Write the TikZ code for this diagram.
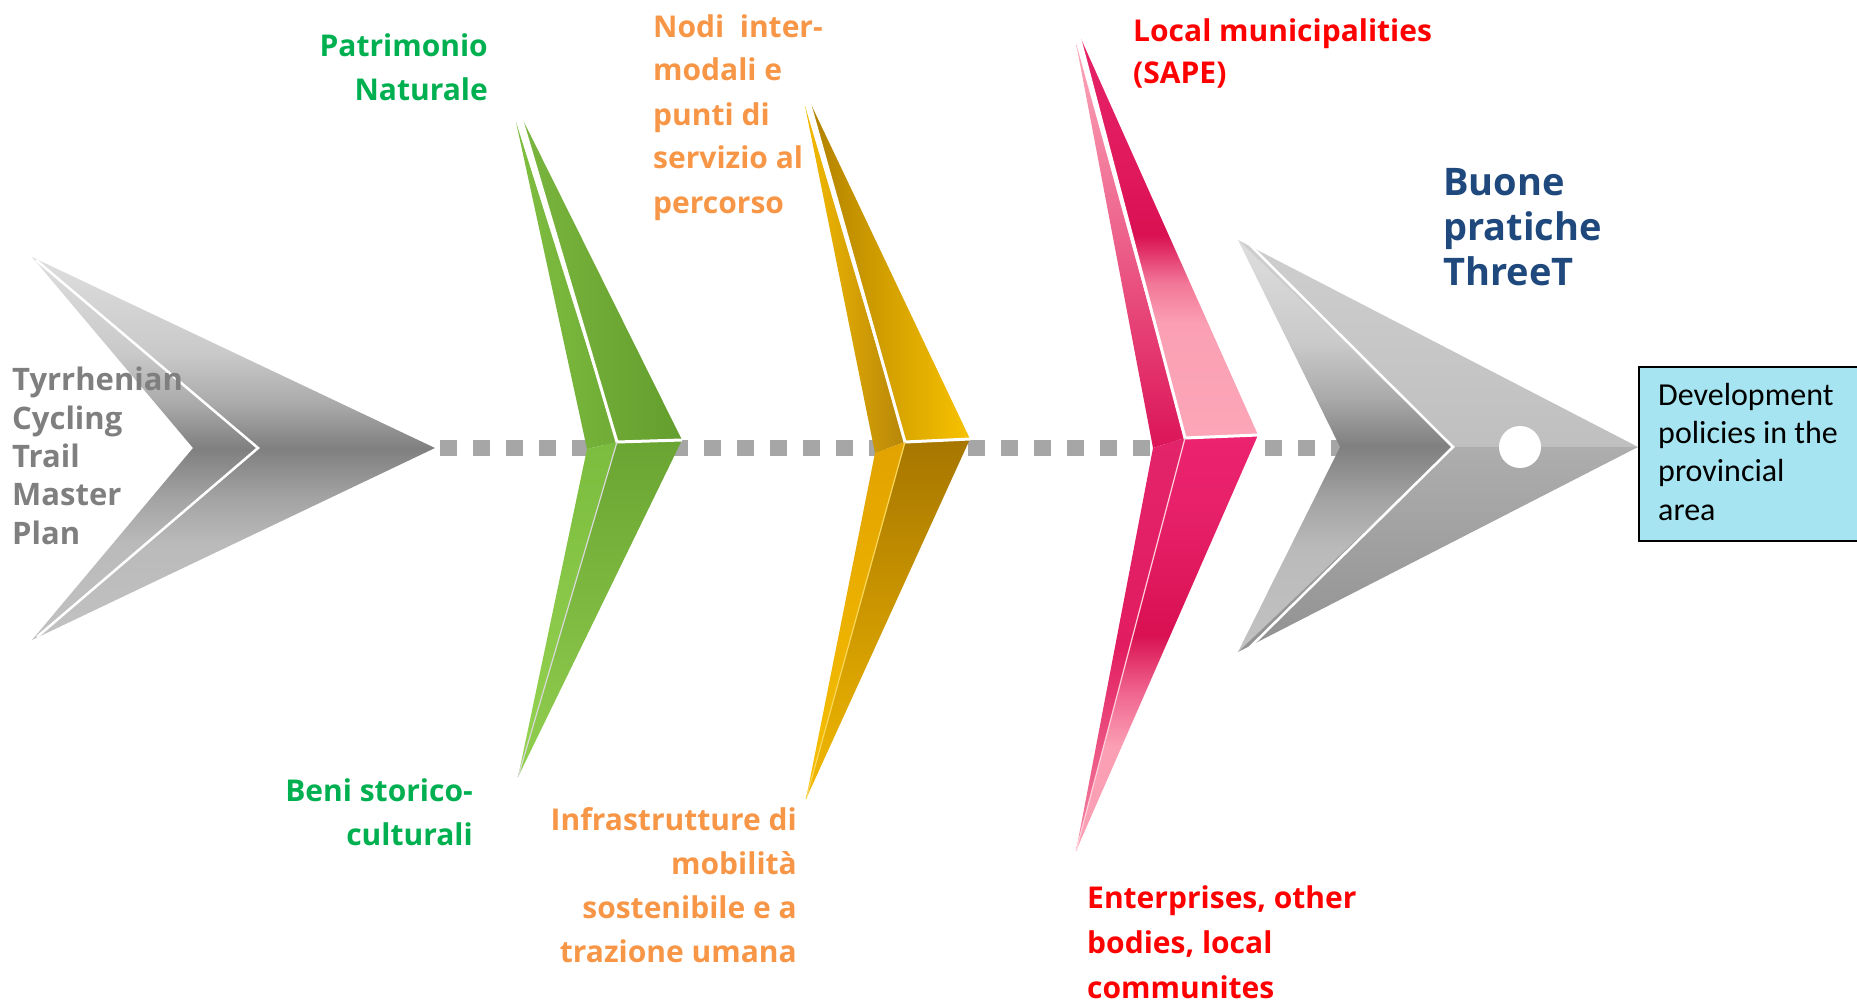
\documentclass[tikz,border=0pt]{standalone}
\usepackage{fontspec}
\setmainfont{Open Sans}
\newfontfamily\boxfont{Carlito}
\definecolor{tgrey}{HTML}{7F7F7F}
\definecolor{tgreen}{HTML}{00B050}
\definecolor{torange}{HTML}{F79646}
\definecolor{tred}{HTML}{FF0000}
\definecolor{tblue}{HTML}{1F497D}
\definecolor{boxfill}{HTML}{A5E4F0}
\definecolor{dotgrey}{HTML}{A6A6A6}
\definecolor{pkA}{HTML}{E62468}
\definecolor{pkB}{HTML}{E0185C}
\definecolor{pkC}{HTML}{D91052}
\definecolor{pkD}{HTML}{F27898}
\definecolor{pkE}{HTML}{FBA0B4}
\definecolor{pkF}{HTML}{FCA6B8}
\definecolor{pkG}{HTML}{EC2370}
\definecolor{pkH}{HTML}{E62068}
\definecolor{pkI}{HTML}{F06690}
\pgfdeclareverticalshading{greychev}{100bp}{color(0bp)=(black!24); color(25bp)=(black!24); color(37.5bp)=(black!27); color(43.5bp)=(black!36); color(50bp)=(black!50); color(56bp)=(black!33); color(62.5bp)=(black!21); color(75bp)=(black!13); color(100bp)=(black!13)}
\pgfdeclareverticalshading{pinkup}{100bp}{color(0bp)=(pkF); color(25bp)=(pkF); color(39bp)=(pkE); color(44bp)=(pkD); color(50bp)=(pkC); color(57.5bp)=(pkB); color(75bp)=(pkA); color(100bp)=(pkA)}
\pgfdeclareverticalshading{pinklow}{100bp}{color(0bp)=(pkE); color(25bp)=(pkE); color(37.5bp)=(pkE); color(44bp)=(pkI); color(51bp)=(pkC); color(65bp)=(pkH); color(75bp)=(pkG); color(100bp)=(pkG)}
\tikzset{
  lbl/.style={inner sep=0pt, font=\fontsize{30}{44}\selectfont\bfseries},
  whiteline/.style={draw=white, line width=3pt, line join=miter},
  thinline/.style={line width=1.2pt},
}
\begin{document}
\begin{tikzpicture}[x=1pt,y=-1pt]
\useasboundingbox (0,0) rectangle (1857,1003);

% dotted spine
\coordinate (ds) at (440,448);
\coordinate (de) at (1352,448);
\draw[dotgrey, line width=16pt, dash pattern=on 17pt off 16pt] (ds) -- (de);

% ---------- left grey chevron ----------
\coordinate (aT) at (32,257);
\coordinate (aN) at (193,448);
\coordinate (aF) at (258,448);
\coordinate (aR) at (435,448);
\coordinate (aB) at (32,640);
\shade[shading=greychev] (aT) -- (aR) -- (aB) -- (aN) -- cycle;
\draw[white, line width=2.5pt] ([xshift=4pt,yshift=-3pt]aT) -- (aF) -- ([xshift=5pt,yshift=3pt]aB);

% ---------- green chevron ----------
\coordinate (gT) at (520,114);
\coordinate (gT2) at (516,122);
\coordinate (gR) at (682,440);
\coordinate (gF) at (617,442);
\coordinate (gN) at (587,449);
\coordinate (gB) at (518,777);
\shade[left color={rgb,255:red,122;green,182;blue,62}, right color={rgb,255:red,100;green,158;blue,46}] (gT) -- (gR) -- (gF) -- cycle;
\shade[left color={rgb,255:red,126;green,190;blue,64}, right color={rgb,255:red,112;green,172;blue,54}] (gT2) -- (gF) -- (gN) -- cycle;
\shade[top color={rgb,255:red,106;green,164;blue,50}, bottom color={rgb,255:red,146;green,208;blue,80}] (gF) -- (gR) -- (gB) -- cycle;
\shade[top color={rgb,255:red,124;green,188;blue,62}, bottom color={rgb,255:red,150;green,212;blue,82}] (gN) -- (gF) -- (gB) -- cycle;
\draw[whiteline] (gT) -- (gF) -- (gR);
\draw[thinline, draw=black!15] (gF) -- (gB);

% ---------- yellow chevron ----------
\coordinate (yT) at (808,98);
\coordinate (yT2) at (805,106);
\coordinate (yR) at (970,439);
\coordinate (yF) at (905,442);
\coordinate (yN) at (875,453);
\coordinate (yB) at (806,799);
\shade[left color={rgb,255:red,176;green,128;blue,0}, right color={rgb,255:red,248;green,194;blue,0}] (yT) -- (yR) -- (yF) -- cycle;
\shade[left color={rgb,255:red,244;green,186;blue,0}, right color={rgb,255:red,182;green,134;blue,10}] (yT2) -- (yF) -- (yN) -- cycle;
\shade[top color={rgb,255:red,166;green,118;blue,0}, bottom color={rgb,255:red,244;green,186;blue,0}] (yF) -- (yR) -- (yB) -- cycle;
\shade[top color={rgb,255:red,226;green,162;blue,0}, bottom color={rgb,255:red,246;green,192;blue,0}] (yN) -- (yF) -- (yB) -- cycle;
\draw[whiteline] (yT) -- (yF) -- (yR);
\draw[thinline, draw={rgb,255:red,250;green,214;blue,90}] (yF) -- (yB);

% ---------- pink chevron ----------
\coordinate (pT) at (1078,32);
\coordinate (pT2) at (1076,43);
\coordinate (pR) at (1258,435);
\coordinate (pF) at (1185,438);
\coordinate (pN) at (1153,448);
\coordinate (pB) at (1076,851);
\shade[shading=pinkup] (pT) -- (pR) -- (pF) -- cycle;
\shade[top color={rgb,255:red,252;green,168;blue,186}, bottom color={rgb,255:red,220;green,20;blue,88}] (pT2) -- (pF) -- (pN) -- cycle;
\shade[shading=pinklow] (pF) -- (pR) -- (pB) -- cycle;
\shade[top color={rgb,255:red,227;green,36;blue,106}, bottom color={rgb,255:red,245;green,138;blue,165}, middle color={rgb,255:red,226;green,28;blue,96}] (pN) -- (pF) -- (pB) -- cycle;
\draw[whiteline] (pT) -- (pF) -- (pR);
\draw[thinline, draw={rgb,255:red,255;green,208;blue,220}] (pF) -- (pB);

% ---------- right grey chevron ----------
\coordinate (rT) at (1238,240);
\coordinate (rN) at (1340,447);
\coordinate (rF) at (1453,447);
\coordinate (rR) at (1638,447);
\coordinate (rB) at (1238,652);
\shade[shading=greychev] (rT) -- (rF) -- (rB) -- (rN) -- cycle;
\shade[top color=black!19, bottom color=black!25] (rT) -- (rR) -- (rF) -- cycle;
\shade[top color=black!32, bottom color=black!43] (rF) -- (rR) -- (rB) -- cycle;
\draw[white, line width=2.5pt] ([xshift=4pt,yshift=3pt]rT) -- (rF) -- ([xshift=4pt,yshift=-3pt]rB);
\node[circle, fill=white, minimum size=42pt, inner sep=0pt] (dot) at (1520,447) {};

% ---------- labels (anchored at the baseline of the last line) ----------
\node[lbl, tgrey, align=left, anchor=base west, font=\fontsize{31}{38.3}\selectfont\bfseries] (tyr) at (12,544)
  {Tyrrhenian\\Cycling\\Trail\\Master\\Plan};
\node[lbl, tgreen, align=right, anchor=base east] (pat) at (488,101) {Patrimonio\\Naturale};
\node[lbl, tgreen, align=right, anchor=base east] (beni) at (473,845) {Beni storico-\\culturali};
\node[lbl, torange, align=left, anchor=base west] (nodi) at (653,213)
  {Nodi\ \ inter-\\modali e\\punti di\\servizio al\\percorso};
\node[lbl, torange, align=right, anchor=base east] (infra) at (797,962)
  {Infrastrutture di\\mobilità\\sostenibile e a\\trazione umana};
\node[lbl, tred, align=left, anchor=base west, font=\fontsize{30}{42}\selectfont\bfseries] (local) at (1133,84) {Local municipalities\\(SAPE)};
\node[lbl, tred, align=left, anchor=base west, font=\fontsize{30}{45}\selectfont\bfseries] (enter) at (1087,998) {Enterprises, other\\bodies, local\\communites};
\node[lbl, tblue, align=left, anchor=base west, font=\fontsize{38}{45}\selectfont\bfseries] (buone) at (1443,285)
  {Buone\\pratiche\\ThreeT};

% ---------- output box ----------
\node[draw=black, line width=2pt, fill=boxfill, anchor=north west, minimum width=230pt, minimum height=174pt, inner sep=0pt] (box) at (1638,366) {};
\node[inner sep=0pt, anchor=base west, align=left, font=\boxfont\fontsize{32}{38.3}\selectfont] (boxtxt) at (1658,520)
  {Development\\policies in the\\provincial\\area};
\end{tikzpicture}
\end{document}
